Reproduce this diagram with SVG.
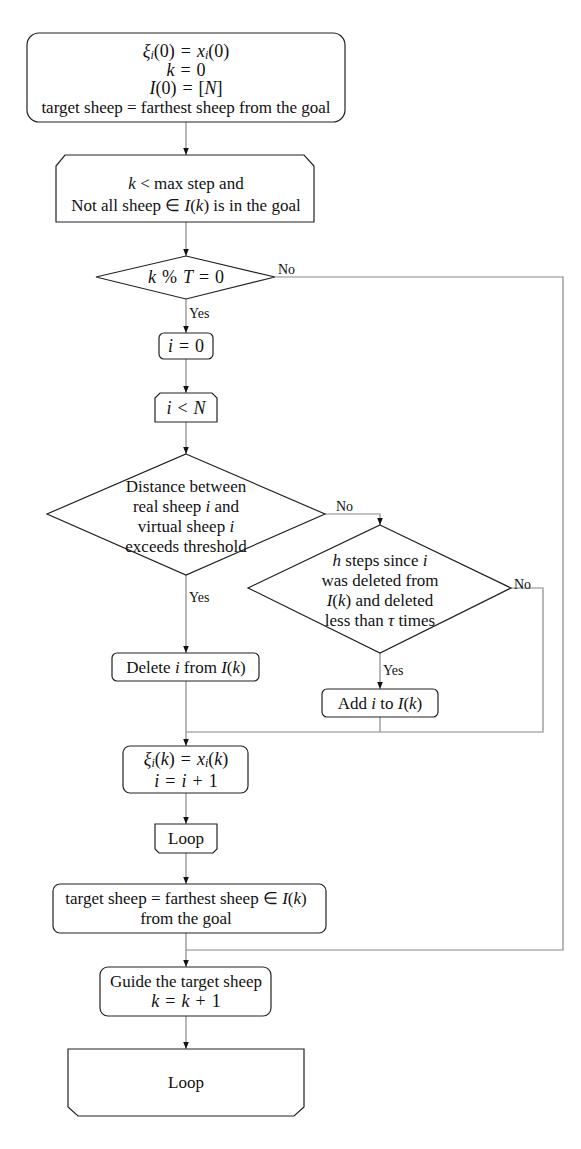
<svg xmlns="http://www.w3.org/2000/svg" width="581" height="1149" viewBox="0 0 581 1149">
<style>
.s{fill:#fff;stroke:#222;stroke-width:1.2}
.c{fill:none;stroke:#888;stroke-width:1.2}
text{font-family:"Liberation Serif","Times New Roman",serif;font-size:17px;fill:#111;text-anchor:middle}
.eq{font-size:18px;word-spacing:1.5px}
.m{font-style:italic}
.sub{font-size:12px;font-style:italic}
.lb{font-size:14px;text-anchor:start}
</style>
<defs>
<marker id="a" viewBox="0 0 10 10" refX="10" refY="5" markerWidth="7" markerHeight="7" orient="auto" markerUnits="userSpaceOnUse">
<path d="M0,1 L10,5 L0,9 z" fill="#111"/>
</marker>
</defs>
<rect width="581" height="1149" fill="#fff"/>
<g id="connectors">
<line class="c" x1="186" y1="122" x2="186" y2="155" marker-end="url(#a)"/>
<line class="c" x1="186" y1="222" x2="186" y2="256" marker-end="url(#a)"/>
<polyline class="c" points="275,277 563,277 563,950 186,950"/>
<line class="c" x1="186" y1="299" x2="186" y2="333" marker-end="url(#a)"/>
<line class="c" x1="186" y1="359" x2="186" y2="393" marker-end="url(#a)"/>
<line class="c" x1="186" y1="422" x2="186" y2="454" marker-end="url(#a)"/>
<polyline class="c" points="325,514 380,514 380,525" marker-end="url(#a)"/>
<line class="c" x1="186" y1="575" x2="186" y2="653" marker-end="url(#a)"/>
<line class="c" x1="380" y1="653" x2="380" y2="689" marker-end="url(#a)"/>
<polyline class="c" points="511,588 543,588 543,732 186,732"/>
<line class="c" x1="380" y1="717" x2="380" y2="732"/>
<line class="c" x1="186" y1="681" x2="186" y2="746" marker-end="url(#a)"/>
<line class="c" x1="186" y1="793" x2="186" y2="824" marker-end="url(#a)"/>
<line class="c" x1="186" y1="853" x2="186" y2="884" marker-end="url(#a)"/>
<line class="c" x1="186" y1="933" x2="186" y2="967" marker-end="url(#a)"/>
<line class="c" x1="186" y1="1016" x2="186" y2="1049" marker-end="url(#a)"/>
<text class="lb" x="278" y="274">No</text>
<text class="lb" x="189" y="318">Yes</text>
<text class="lb" x="336" y="511">No</text>
<text class="lb" x="189" y="602">Yes</text>
<text class="lb" x="514" y="589">No</text>
<text class="lb" x="383" y="675">Yes</text>
</g>
<g id="init">
<rect class="s" x="27" y="33" width="318" height="89" rx="12"/>
<text class="eq" x="186" y="57"><tspan class="m">ξ</tspan><tspan class="sub" dy="2">i</tspan><tspan dy="-2">(0) =  </tspan><tspan class="m">x</tspan><tspan class="sub" dy="2">i</tspan><tspan dy="-2">(0)</tspan></text>
<text class="eq" x="186" y="76"><tspan class="m">k</tspan> = 0</text>
<text class="eq" x="186" y="94"><tspan class="m">I</tspan>(0) = [<tspan class="m">N</tspan>]</text>
<text x="186" y="113">target sheep = farthest sheep from the goal</text>
</g>
<g id="loop1">
<path class="s" d="M65,155 L304,155 L314,166 L314,222 L56,222 L56,166 Z"/>
<text x="186" y="189"><tspan class="m">k</tspan> &lt; max step and</text>
<text x="186" y="211">Not all sheep ∈ <tspan class="m">I</tspan>(<tspan class="m">k</tspan>) is in the goal</text>
</g>
<g id="dec1">
<polygon class="s" points="186,256 275,277 186,299 96,277"/>
<text class="eq" x="186" y="283"><tspan class="m">k</tspan> % <tspan class="m">T</tspan> = 0</text>
</g>
<g id="i0">
<rect class="s" x="159" y="333" width="54" height="26" rx="5"/>
<text class="eq" x="186" y="352"><tspan class="m">i</tspan> = 0</text>
</g>
<g id="loop2">
<path class="s" d="M160,393 L212,393 L217,398 L217,422 L155,422 L155,398 Z"/>
<text class="eq" x="186" y="414"><tspan class="m">i</tspan> &lt; <tspan class="m">N</tspan></text>
</g>
<g id="dec2">
<polygon class="s" points="186,454 325,514 186,575 47,514"/>
<text x="186" y="492">Distance between</text>
<text x="186" y="512">real sheep <tspan class="m">i</tspan> and</text>
<text x="186" y="532">virtual sheep <tspan class="m">i</tspan></text>
<text x="186" y="552">exceeds threshold</text>
</g>
<g id="dec3">
<polygon class="s" points="380,525 511,588 380,653 248,588"/>
<text x="380" y="566"><tspan class="m">h</tspan> steps since <tspan class="m">i</tspan></text>
<text x="380" y="586">was deleted from</text>
<text x="380" y="606"><tspan class="m">I</tspan>(<tspan class="m">k</tspan>) and deleted</text>
<text x="380" y="626">less than <tspan class="m">τ</tspan> times</text>
</g>
<g id="delete">
<rect class="s" x="112" y="653" width="147" height="28" rx="5"/>
<text x="186" y="673">Delete <tspan class="m">i</tspan> from <tspan class="m">I</tspan>(<tspan class="m">k</tspan>)</text>
</g>
<g id="add">
<rect class="s" x="322" y="689" width="116" height="28" rx="5"/>
<text x="380" y="709">Add <tspan class="m">i</tspan> to <tspan class="m">I</tspan>(<tspan class="m">k</tspan>)</text>
</g>
<g id="update">
<rect class="s" x="123" y="746" width="125" height="47" rx="7"/>
<text class="eq" x="186" y="765"><tspan class="m">ξ</tspan><tspan class="sub" dy="2">i</tspan><tspan dy="-2">(</tspan><tspan class="m">k</tspan>) =  <tspan class="m">x</tspan><tspan class="sub" dy="2">i</tspan><tspan dy="-2">(</tspan><tspan class="m">k</tspan>)</text>
<text class="eq" x="186" y="787"><tspan class="m">i</tspan> = <tspan class="m">i</tspan> + 1</text>
</g>
<g id="loopend1">
<path class="s" d="M155,824 L217,824 L217,849 L213,853 L159,853 L155,849 Z"/>
<text x="186" y="844">Loop</text>
</g>
<g id="target">
<rect class="s" x="53" y="884" width="273" height="49" rx="7"/>
<text x="186" y="904">target sheep = farthest sheep ∈ <tspan class="m">I</tspan>(<tspan class="m">k</tspan>)</text>
<text x="186" y="924">from the goal</text>
</g>
<g id="guide">
<rect class="s" x="100" y="967" width="171" height="49" rx="8"/>
<text x="186" y="987">Guide the target sheep</text>
<text class="eq" x="186" y="1007"><tspan class="m">k</tspan> = <tspan class="m">k</tspan> + 1</text>
</g>
<g id="loopend2">
<path class="s" d="M68,1049 L304,1049 L304,1107 L294,1116 L78,1116 L68,1107 Z"/>
<text x="186" y="1088">Loop</text>
</g>
</svg>
